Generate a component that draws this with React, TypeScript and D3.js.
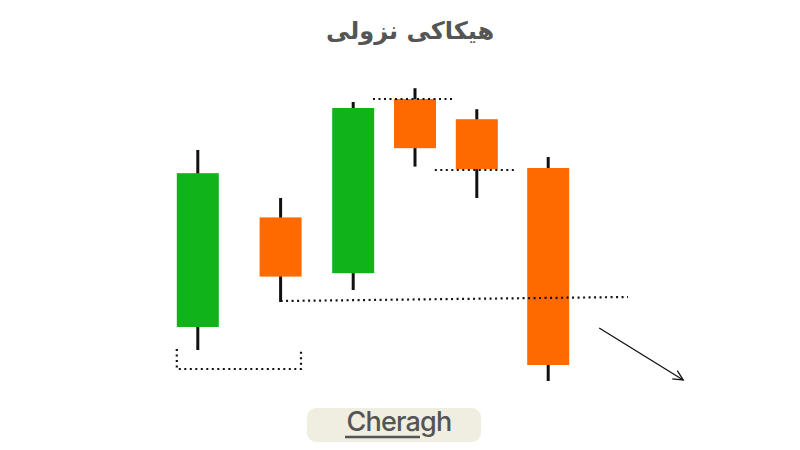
import * as d3 from 'd3'

// candle positions (x units) and prices
const slots = [16.3, 30.1, 42.2, 52.5, 62.8, 74.7]
const opens = [36.5, 91.3, 63.4, 150.5, 140.4, 116]
const closes = [113.4, 61.7, 146, 125.9, 115.4, 17.5]
const highs = [125, 101, 149, 155.9, 145.4, 121.5]
const lows = [25, 49, 55, 116.7, 101, 9.5]

// dotted guide lines [x, price]
const bracket: [number, number][] = [[12.8, 25.5], [12.8, 15.5], [33.5, 15.5], [33.5, 25.5]]
const lowLine: [number, number][] = [[30.1, 49.5], [88, 51.5]]
const topLine: [number, number][] = [[45.5, 150.5], [59.2, 150.5]]
const midLine: [number, number][] = [[55.8, 115], [69.5, 115]]
const arrow: [number, number][] = [[83.2, 36], [97.2, 10]]

const title = 'هیکاکی نزولی'
const brand = 'Cheragh'

export default function App() {
  const width = 800
  const height = 450

  const x = d3.scaleLinear().domain([0, 100]).range([100, 700])
  const y = d3.scaleLinear().domain([0, 160]).range([400, 80])
  const bodyW = x(7) - x(0)

  const line = d3.line<[number, number]>().x(d => x(d[0])).y(d => y(d[1]))

  const candles = slots.map((s, i) => ({ s, o: opens[i], c: closes[i], h: highs[i], l: lows[i] }))

  // arrow head
  const [a0, a1] = arrow
  const ax1 = x(a1[0]), ay1 = y(a1[1])
  const ang = Math.atan2(ay1 - y(a0[1]), ax1 - x(a0[0]))
  const hl = 11
  const head = [
    [ax1 - hl * Math.cos(ang - 0.45), ay1 - hl * Math.sin(ang - 0.45)],
    [ax1, ay1],
    [ax1 - hl * Math.cos(ang + 0.45), ay1 - hl * Math.sin(ang + 0.45)],
  ]

  const dotted = { fill: 'none', stroke: '#111', strokeWidth: 2.2, strokeDasharray: '2 3.5' }

  return (
    <svg width={width} height={height} style={{ position: 'absolute', left: 0, top: 0, background: '#fff' }}>
      <rect width={width} height={height} fill="#fff" />
      <text x={410} y={39} textAnchor="middle" fontFamily="DejaVu Sans" fontWeight="bold" fontSize={24} fill="#555" direction="rtl">
        {title}
      </text>

      {candles.map((d, i) => (
        <g key={i}>
          <line x1={x(d.s)} x2={x(d.s)} y1={y(d.h)} y2={y(d.l)} stroke="#111" strokeWidth={3} />
          <rect
            x={x(d.s) - bodyW / 2}
            y={y(Math.max(d.o, d.c))}
            width={bodyW}
            height={Math.abs(y(d.o) - y(d.c))}
            fill={d.c >= d.o ? '#10b31a' : '#ff6a00'}
          />
        </g>
      ))}

      <path d={line(bracket)!} {...dotted} />
      <path d={line(lowLine)!} {...dotted} />
      <path d={line(topLine)!} {...dotted} />
      <path d={line(midLine)!} {...dotted} />

      <path d={line(arrow)!} fill="none" stroke="#111" strokeWidth={1.3} />
      <path d={d3.line()(head as [number, number][])!} fill="none" stroke="#111" strokeWidth={1.3} />

      <rect x={307} y={408} width={174} height={34} rx={9} fill="#efeee1" />
      <text x={399} y={431} textAnchor="middle" fontFamily="Inter" fontWeight={500} fontSize={27} fill="#555" letterSpacing={-0.8}>
        {brand}
      </text>
      <line x1={345} x2={420} y1={437} y2={437} stroke="#555" strokeWidth={2.5} />
    </svg>
  )
}
